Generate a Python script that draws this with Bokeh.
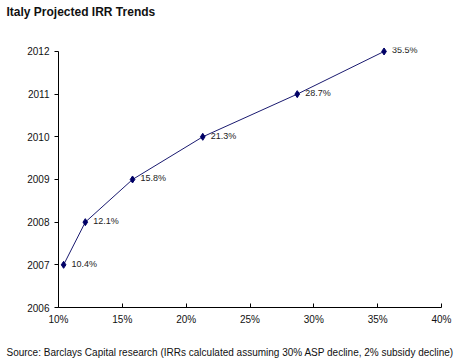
from bokeh.plotting import figure
from bokeh.embed import file_html
from bokeh.resources import INLINE
from bokeh.models import ColumnDataSource, Title, FixedTicker, Range1d, CustomJSTickFormatter, LabelSet
from bokeh.core.properties import value

years = [2007, 2008, 2009, 2010, 2011, 2012]
irr = [10.4, 12.1, 15.8, 21.3, 28.7, 35.5]
labels = ["10.4%", "12.1%", "15.8%", "21.3%", "28.7%", "35.5%"]
x_ticks = [10, 15, 20, 25, 30, 35, 40]
y_ticks = [2006, 2007, 2008, 2009, 2010, 2011, 2012]
title_text = "Italy Projected IRR Trends"
source_text = "Source: Barclays Capital research (IRRs calculated assuming 30% ASP decline, 2% subsidy decline)"

src = ColumnDataSource(dict(x=irr, y=years, lab=labels))

p = figure(width=455, height=361, output_backend="svg", toolbar_location=None,
           x_range=Range1d(10, 40), y_range=Range1d(2006, 2012.093),
           min_border_left=58, min_border_right=14, min_border_top=47, min_border_bottom=53)
p.outline_line_color = None
p.xgrid.visible = False
p.ygrid.visible = False
p.background_fill_color = "white"
p.border_fill_color = "white"

p.line("x", "y", source=src, line_color="#1a1a70", line_width=1)
p.scatter("x", "y", source=src, marker="diamond", size=7, fill_color="#000066", line_color="#000066")
p.add_layout(LabelSet(x="x", y="y", text="lab", source=src, x_offset=8, y_offset=-4,
                      text_font=value("Liberation Sans"), text_font_size=value("9px"),
                      text_color=value("#222222")))

for ax in (p.xaxis[0], p.yaxis[0]):
    ax.axis_line_color = "black"
    ax.major_tick_line_color = "black"
    ax.minor_tick_line_color = None
    ax.major_label_text_font = "Liberation Sans"
    ax.major_label_text_font_size = "10px"
    ax.major_label_text_color = "#111111"

p.xaxis.ticker = FixedTicker(ticks=x_ticks)
p.xaxis.formatter = CustomJSTickFormatter(code="return tick + '%';")
p.xaxis.major_tick_in = 4
p.xaxis.major_tick_out = 0
p.xaxis.major_label_standoff = 6

p.yaxis.ticker = FixedTicker(ticks=y_ticks)
p.yaxis.bounds = (2006, 2012)
p.yaxis.major_tick_in = 0
p.yaxis.major_tick_out = 4
p.yaxis.major_label_standoff = 5

p.title.text = title_text + "\n \n "
p.title.text_font = "Liberation Sans"
p.title.text_font_size = "12px"
p.title.text_font_style = "bold"
p.title.text_line_height = 0.92
p.title.text_color = "#111111"
p.title.align = "left"
p.title.offset = -52
p.title.standoff = 5

p.add_layout(Title(text=" \n" + source_text, text_font="Liberation Sans", text_font_size="10px",
                   text_font_style="normal", text_line_height=1.4, text_color="#111111",
                   align="left", offset=-52, standoff=6), "below")

open("out.html", "w").write(file_html(p, INLINE))
